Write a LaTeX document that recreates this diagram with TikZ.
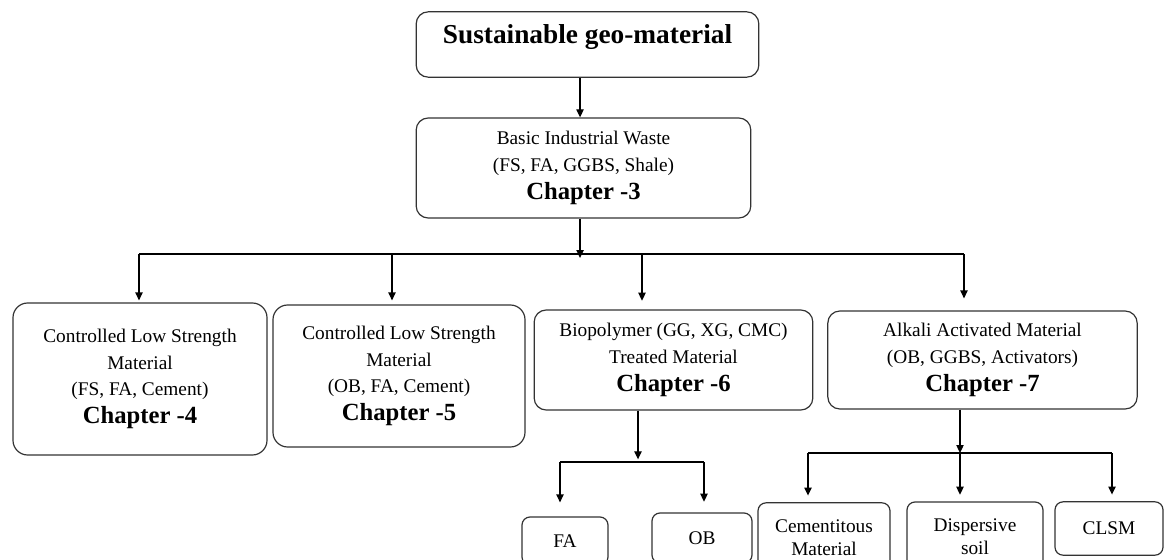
\documentclass[tikz,border=0pt]{standalone}
\usepackage{fontspec}
\setmainfont{Liberation Serif}
\usepackage{tikz}
\usetikzlibrary{arrows.meta}

\newcommand{\chapfont}{\fontsize{18.5}{22}\selectfont\bfseries}

\begin{document}
\begin{tikzpicture}[
    x=0.75pt, y=-0.75pt,
    box/.style={rectangle, rounded corners=9pt, draw=black!80, line width=0.9pt, align=center, inner sep=0pt, font=\fontsize{14.5}{20}\selectfont},
    leaf/.style={box, rounded corners=6pt, font=\fontsize{14.5}{17.5}\selectfont},
    link/.style={line width=0.9pt},
    arr/.style={link, -{Triangle[length=6pt, width=5.5pt]}}
]
    \clip (0,0) rectangle (1165,560);

    % Top levels
    \node[box, minimum width=257pt, minimum height=49pt, text depth=15pt, font=\fontsize{20.5}{24}\selectfont\bfseries] (geo) at (587.5,44.5) {Sustainable geo-material};
    \node[box, minimum width=251pt, minimum height=75pt] (waste) at (583.5,168) {Basic Industrial Waste\\(FS, FA, GGBS, Shale)\\[1pt]{\chapfont Chapter -3}};

    % Chapters
    \node[box, rounded corners=11pt, minimum width=190.5pt, minimum height=114pt] (clsmA) at (140,379) {Controlled Low Strength\\Material\\(FS, FA, Cement)\\[1pt]{\chapfont Chapter -4}};
    \node[box, rounded corners=11pt, minimum width=189pt, minimum height=106.5pt] (clsmB) at (399,376) {Controlled Low Strength\\Material\\(OB, FA, Cement)\\[1pt]{\chapfont Chapter -5}};
    \node[box, minimum width=209pt, minimum height=75pt] (bio) at (673.5,360) {Biopolymer (GG, XG, CMC)\\Treated Material\\[1pt]{\chapfont Chapter -6}};
    \node[box, minimum width=232pt, minimum height=73.5pt] (alkali) at (982.5,360) {Alkali Activated Material\\(OB, GGBS, Activators)\\[1pt]{\chapfont Chapter -7}};

    % Leaves
    \node[leaf, minimum width=64.5pt, minimum height=36pt] (fa) at (565,541) {FA};
    \node[leaf, minimum width=75pt, minimum height=37.5pt] (ob) at (702,538) {OB};
    \node[leaf, minimum width=99pt, minimum height=52pt] (cem) at (824,537.5) {Cementitous\\Material};
    \node[leaf, minimum width=102pt, minimum height=52.5pt] (disp) at (975,537) {Dispersive\\soil};
    \node[leaf, minimum width=81pt, minimum height=40pt] (clsm) at (1109,528.5) {CLSM};

    % Top to waste
    \draw[arr] ([xshift=-5.6pt]geo.south) -- ([xshift=-5.6pt]geo.south |- waste.north);

    % Waste to chapters
    \coordinate (b1) at (139,254);
    \coordinate (b2) at (392,254);
    \coordinate (b3) at (642,254);
    \coordinate (b4) at (964,254);
    \draw[arr, shorten >=-3pt] ([xshift=-2.6pt]waste.south) -- ([xshift=-2.6pt]waste.south |- b1);
    \draw[link] (b1) -- (b4);
    \foreach \b/\n/\g in {1/clsmA/1.5, 2/clsmB/3, 3/bio/6.5, 4/alkali/9}
        \draw[arr, shorten >=\g pt] (b\b) -- (b\b |- \n.north);

    % Chapter 6 branches
    \coordinate (p1) at (638,462);
    \coordinate (p1l) at (560,462);
    \coordinate (p1r) at (704,462);
    \draw[arr, shorten >=2pt] (p1 |- bio.south) -- (p1);
    \draw[link] (p1l) -- (p1r);
    \draw[arr, shorten >=10.5pt] (p1l) -- (p1l |- fa.north);
    \draw[arr, shorten >=8pt] (p1r) -- (p1r |- ob.north);

    % Chapter 7 branches
    \coordinate (p2) at (960,453);
    \coordinate (p2l) at (808,453);
    \coordinate (p2r) at (1112,453);
    \draw[arr] (p2 |- alkali.south) -- (p2);
    \draw[link] (p2l) -- (p2r);
    \foreach \c/\n in {p2l/cem, p2/disp, p2r/clsm}
        \draw[arr, shorten >=5pt] (\c) -- (\c |- \n.north);
\end{tikzpicture}
\end{document}
